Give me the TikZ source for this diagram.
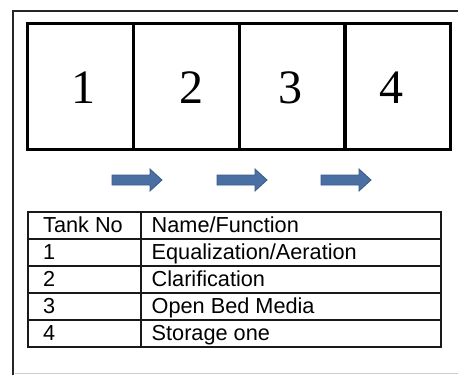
\documentclass[tikz,border=0pt]{standalone}
\usepackage{fontspec}
\setmainfont{Liberation Sans}
\newfontfamily\tankfont{Liberation Serif}
\definecolor{arrowfill}{RGB}{74,112,163}
\definecolor{arrowedge}{RGB}{58,92,138}
\begin{document}
\begin{tikzpicture}[x=1pt,y=-1pt,
  tankbox/.style={draw=black,line width=3pt,minimum width=106pt,minimum height=126pt,inner sep=0pt,outer sep=0pt},
  tanknum/.style={font=\tankfont\fontsize{48}{50}\selectfont,inner sep=0pt,anchor=base},
  celltext/.style={font=\fontsize{21.7}{24}\selectfont,inner sep=0pt,anchor=base west},
  tabline/.style={line width=1.3pt,black!90},
  flowarrow/.style={fill=arrowfill,draw=arrowedge,line width=0.8pt,line join=miter},
  pics/flow/.style={code={
    \path[flowarrow] (0,-5) -- (38,-5) -- (38,-11) -- (50,0) -- (38,11) -- (38,5) -- (0,5) -- cycle;
  }}]
\useasboundingbox (0,0) rectangle (458,375);
% outer frame
\draw[line width=2.4pt,black!85] (13.2,375) -- (13.2,11.2) -- (460,11.2);
\draw[line width=1.2pt,black!20] (14.5,373.5) -- (460,373.5);
% tanks
\node[tankbox] (t1) at (80,86) {};
\node[tankbox] (t2) at (186,86) {};
\node[tankbox] (t3) at (292,86) {};
\node[tankbox] (t4) at (397,86) {};
\node[tanknum] (n1) at (83,103) {1};
\node[tanknum] (n2) at (191,103) {2};
\node[tanknum] (n3) at (290,103) {3};
\node[tanknum] (n4) at (391,103) {4};
% flow arrows
\pic (a1) at (112,180) {flow};
\pic (a2) at (217,180) {flow};
\pic (a3) at (321,180) {flow};
% table
\draw[tabline] (28,212) rectangle (441,347);
\foreach \yy in {239,266,293,320} \draw[tabline] (28,\yy) -- (441,\yy);
\draw[tabline] (141,212) -- (141,347);
\node[celltext] (h1) at (43,232) {Tank No};
\node[celltext] (h2) at (151.5,232) {Name/Function};
\node[celltext] (r1a) at (43,259) {1};
\node[celltext] (r1b) at (151.5,259) {Equalization/Aeration};
\node[celltext] (r2a) at (43,286) {2};
\node[celltext] (r2b) at (151.5,286) {Clarification};
\node[celltext] (r3a) at (43,313) {3};
\node[celltext] (r3b) at (151.5,313) {Open Bed Media};
\node[celltext] (r4a) at (43,340) {4};
\node[celltext] (r4b) at (151.5,340) {Storage one};
\end{tikzpicture}
\end{document}
